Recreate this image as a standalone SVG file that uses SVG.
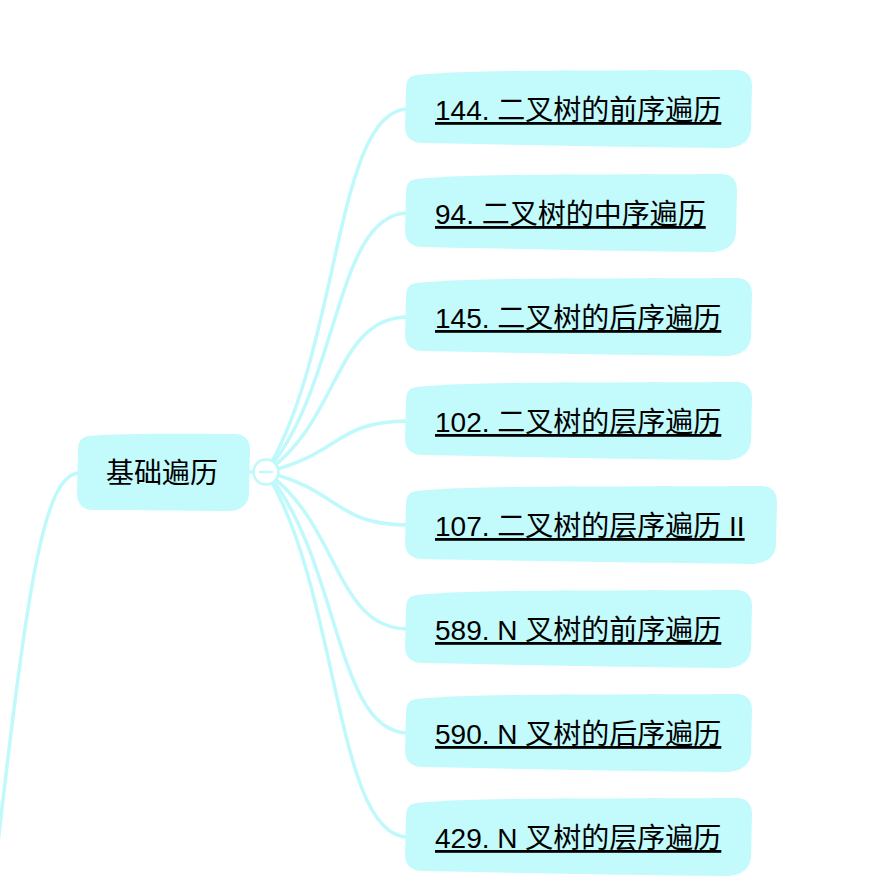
<svg xmlns="http://www.w3.org/2000/svg" width="890" height="894" viewBox="0 0 890 894">
<style>
.bg{fill:#ffffff}
.box{fill:#c3fafc}
.edge{fill:none;stroke:#c0f9fb;stroke-width:3.5;stroke-linecap:round}
.t{font-family:"Liberation Sans","Noto Sans CJK SC",sans-serif;font-size:28px;fill:#000000}
.u{text-decoration:underline}
.fold{fill:#ffffff;stroke:#c0f9fb;stroke-width:2.5}
.minus{stroke:#c0f9fb;stroke-width:2.5;fill:none}
</style>
<rect class="bg" x="0" y="0" width="890" height="894"/>
<g id="connectors">
<path class="edge" d="M80 473 C44 473 28 580 -4 860"/>
<path class="edge" d="M247 472 L266 472"/>
<path class="edge" d="M266 472 C340 352 335 109 408 109"/>
<path class="edge" d="M266 472 C340 387 335 213 408 213"/>
<path class="edge" d="M266 472 C340 421 335 317 408 317"/>
<path class="edge" d="M266 472 C340 455 335 421 408 421"/>
<path class="edge" d="M266 472 C340 490 335 525 408 525"/>
<path class="edge" d="M266 472 C340 524 335 629 408 629"/>
<path class="edge" d="M266 472 C340 558 335 733 408 733"/>
<path class="edge" d="M266 472 C340 592 335 837 408 837"/>
</g>
<g id="fold-toggle">
<circle class="fold" cx="266" cy="472" r="12.5"/>
<path class="minus" d="M259 472 L273 472"/>
</g>
<g id="node-root">
<path class="box" transform="translate(77,433)" d="M12 3 C50 0 110 1 157 1 C168 1 173 7 173 17 L172 60 C172 71 164 78 152 78 C110 78 60 77 16 77 C5 77 0 70 0 60 L1 18 C1 9 4 4 12 3 Z"/>
<text class="t" x="162" y="483" text-anchor="middle">基础遍历</text>
</g>
<g id="node-144">
<path class="box" transform="translate(405,70)" d="M12 5 C70 -1 200 1 331 0 C342 0 347 6 347 16 L346 58 C346 70 337 77 323 78 C227 77 120 75 16 73 C5 72 0 66 0 56 L1 20 C1 10 4 6 12 5 Z"/>
<text class="t u" x="435" y="120">144. 二叉树的前序遍历</text>
</g>
<g id="node-94">
<path class="box" transform="translate(405,174)" d="M12 5 C70 -1 200 1 316 0 C327 0 332 6 332 16 L331 58 C331 70 322 77 308 78 C212 77 120 75 16 73 C5 72 0 66 0 56 L1 20 C1 10 4 6 12 5 Z"/>
<text class="t u" x="435" y="224">94. 二叉树的中序遍历</text>
</g>
<g id="node-145">
<path class="box" transform="translate(405,278)" d="M12 5 C70 -1 200 1 331 0 C342 0 347 6 347 16 L346 58 C346 70 337 77 323 78 C227 77 120 75 16 73 C5 72 0 66 0 56 L1 20 C1 10 4 6 12 5 Z"/>
<text class="t u" x="435" y="328">145. 二叉树的后序遍历</text>
</g>
<g id="node-102">
<path class="box" transform="translate(405,382)" d="M12 5 C70 -1 200 1 331 0 C342 0 347 6 347 16 L346 58 C346 70 337 77 323 78 C227 77 120 75 16 73 C5 72 0 66 0 56 L1 20 C1 10 4 6 12 5 Z"/>
<text class="t u" x="435" y="432">102. 二叉树的层序遍历</text>
</g>
<g id="node-107">
<path class="box" transform="translate(405,486)" d="M12 5 C70 -1 200 1 356 0 C367 0 372 6 372 16 L371 58 C371 70 362 77 348 78 C252 77 120 75 16 73 C5 72 0 66 0 56 L1 20 C1 10 4 6 12 5 Z"/>
<text class="t u" x="435" y="536">107. 二叉树的层序遍历 II</text>
</g>
<g id="node-589">
<path class="box" transform="translate(405,590)" d="M12 5 C70 -1 200 1 331 0 C342 0 347 6 347 16 L346 58 C346 70 337 77 323 78 C227 77 120 75 16 73 C5 72 0 66 0 56 L1 20 C1 10 4 6 12 5 Z"/>
<text class="t u" x="435" y="640">589. N 叉树的前序遍历</text>
</g>
<g id="node-590">
<path class="box" transform="translate(405,694)" d="M12 5 C70 -1 200 1 331 0 C342 0 347 6 347 16 L346 58 C346 70 337 77 323 78 C227 77 120 75 16 73 C5 72 0 66 0 56 L1 20 C1 10 4 6 12 5 Z"/>
<text class="t u" x="435" y="744">590. N 叉树的后序遍历</text>
</g>
<g id="node-429">
<path class="box" transform="translate(405,798)" d="M12 5 C70 -1 200 1 331 0 C342 0 347 6 347 16 L346 58 C346 70 337 77 323 78 C227 77 120 75 16 73 C5 72 0 66 0 56 L1 20 C1 10 4 6 12 5 Z"/>
<text class="t u" x="435" y="848">429. N 叉树的层序遍历</text>
</g>
</svg>
